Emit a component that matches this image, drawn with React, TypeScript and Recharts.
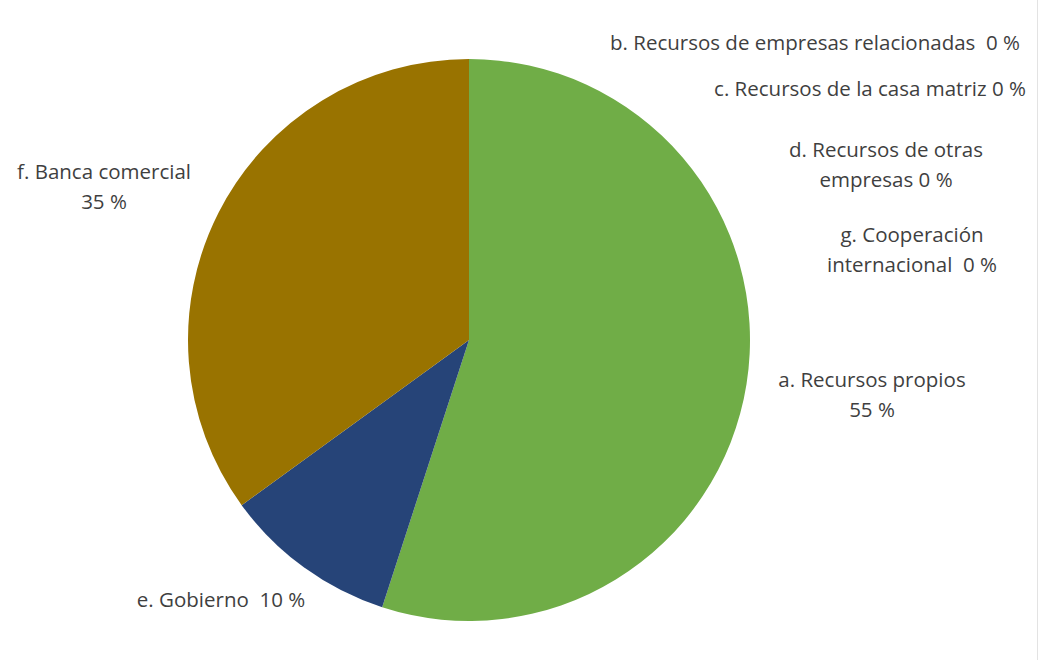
import { PieChart, Pie, Cell } from "recharts";

const CATEGORIES = [
  "a. Recursos propios",
  "b. Recursos de empresas relacionadas",
  "c. Recursos de la casa matriz",
  "d. Recursos de otras empresas",
  "e. Gobierno",
  "f. Banca comercial",
  "g. Cooperación internacional",
];
const SHARES = [55, 0, 0, 0, 10, 35, 0];
const COLORS = ["#70AD47", "#4472C4", "#ED7D31", "#A5A5A5", "#264478", "#997300", "#5B9BD5"];

// label text lines per slice, as Excel wrapped them
const LABEL_LINES: string[][] = [
  ["a. Recursos propios", "55 %"],
  ["b. Recursos de empresas relacionadas  0 %"],
  ["c. Recursos de la casa matriz 0 %"],
  ["d. Recursos de otras", "empresas 0 %"],
  ["e. Gobierno  10 %"],
  ["f. Banca comercial", "35 %"],
  ["g. Cooperación", "internacional  0 %"],
];

// where each label box sits (center x, first baseline y)
const LABEL_ANCHOR: [number, number][] = [
  [872, 387],
  [815, 50],
  [870, 96],
  [886, 157],
  [221, 607],
  [104, 179],
  [912, 242],
];

const data = CATEGORIES.map((name, i) => ({ name, value: SHARES[i] }));

const renderLabel = (props: any) => {
  const i = props.index;
  if (i == null) return null;
  const [x, y] = LABEL_ANCHOR[i];
  return (
    <text
      key={`lbl-${i}`}
      x={x}
      y={y}
      textAnchor="middle"
      style={{ fontFamily: "'Open Sans', sans-serif", fontSize: 20.5, fill: "#3f3f3f", whiteSpace: "pre" }}
    >
      {LABEL_LINES[i].map((line, j) => (
        <tspan key={j} x={x} dy={j === 0 ? 0 : 30}>
          {line}
        </tspan>
      ))}
    </text>
  );
};

export default function App() {
  return (
    <div style={{ position: "absolute", left: 0, top: 0, width: 1042, height: 660, background: "#fff" }}>
      <PieChart width={1042} height={660} margin={{ top: 0, right: 0, bottom: 0, left: 0 }}>
        <Pie
          data={data}
          dataKey="value"
          nameKey="name"
          cx={469}
          cy={340}
          outerRadius={281}
          startAngle={90}
          endAngle={-270}
          stroke="none"
          label={renderLabel}
          labelLine={false}
          isAnimationActive={false}
        >
          {data.map((d, i) => (
            <Cell key={d.name} fill={COLORS[i]} />
          ))}
        </Pie>
      </PieChart>
      <div style={{ position: "absolute", left: 1037, top: 0, width: 1, height: 660, background: "#e3e3e3" }} />
    </div>
  );
}
